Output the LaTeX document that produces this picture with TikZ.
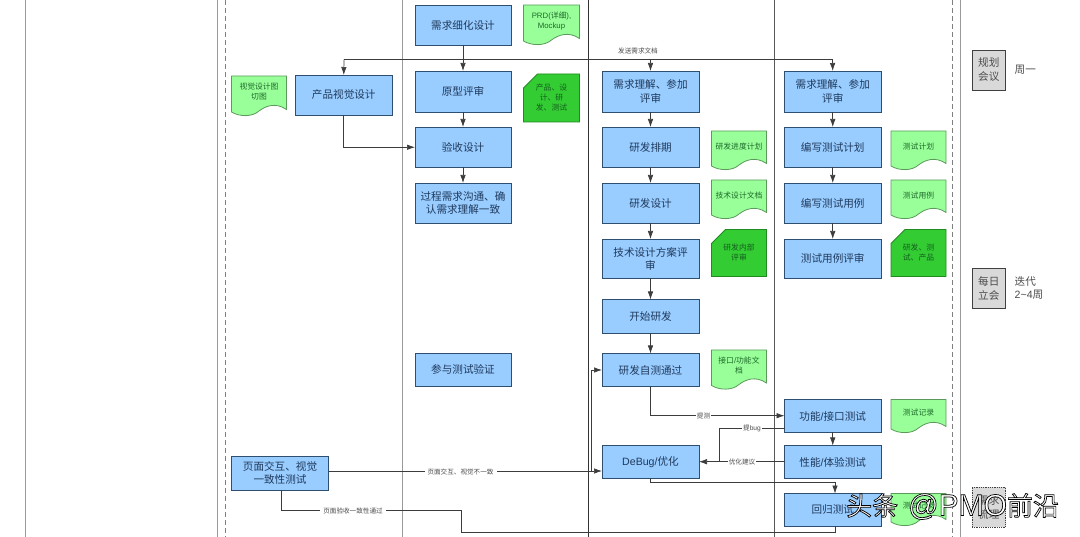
\documentclass[tikz,border=0pt]{standalone}
\usepackage{fontspec}
\setmainfont{Noto Sans CJK SC}
\newfontfamily\latinfont{Liberation Sans}
\usetikzlibrary{arrows.meta,calc}
\definecolor{boxfill}{HTML}{99CCFF}
\definecolor{boxline}{HTML}{2F4F70}
\definecolor{boxtext}{HTML}{1F3A5C}
\definecolor{docfill}{HTML}{99FF99}
\definecolor{docline}{HTML}{5C9A5C}
\definecolor{darkfill}{HTML}{33CC33}
\definecolor{darkline}{HTML}{1F8A1F}
\definecolor{doctext}{HTML}{1E6A2A}
\definecolor{darktext}{HTML}{14601E}
\definecolor{greyfill}{HTML}{D9D9D9}
\definecolor{laneline}{HTML}{9A9A9A}
\definecolor{wireline}{HTML}{3C3C3C}
\tikzset{
  x=1pt,y=-1pt,
  boxbase/.style={anchor=north west,inner sep=0pt,align=center,outer sep=0pt},
  proc/.style={boxbase,draw=boxline,line width=.8pt,fill=boxfill,text=boxtext,font=\fontsize{10.6}{13.2}\selectfont},
  doctxt/.style={boxbase,text=doctext,font=\fontsize{7.8}{10}\selectfont},
  meet/.style={boxbase,draw=black!75,line width=.8pt,fill=greyfill,text=black!70,font=\fontsize{10.6}{14}\selectfont},
  meetdot/.style={meet,densely dotted},
  wire/.style={draw=wireline,line width=.7pt},
  flow/.style={wire,-{Latex[length=8pt,width=5.5pt]}},
  lbl/.style={fill=white,inner sep=1pt,text=black!70,font=\fontsize{6.6}{8}\selectfont},
  lane/.style={draw=laneline,line width=1pt},
  blackline/.style={draw=black!80,line width=.7pt},
  dashline/.style={draw=black!50,line width=.6pt,dash pattern=on 5pt off 3pt},
  side/.style={anchor=west,inner sep=0pt,align=left,text=black!70,font=\fontsize{10.6}{13.2}\selectfont},
}
% name, x1, y1, x2, y2, text
\newcommand{\procbox}[6]{\node[proc,minimum width=#4-#2,minimum height=#5-#3,text width=#4-#2-8] (#1) at (#2,#3) {#6};}
\newcommand{\meetbox}[7][meet]{\node[#1,minimum width=#5-#3,minimum height=#6-#4] (#2) at (#3,#4) {#7};}
\newcommand{\docbox}[6]{%
  \draw[draw=docline,line width=.8pt,fill=docfill]
    (#2,#3) -- (#4,#3) -- (#4,#5-6.5)
    .. controls ({#2+.8*(#4-#2)},#5-14) and ({#2+.62*(#4-#2)},#5-10) .. ({#2+.5*(#4-#2)},#5-5)
    .. controls ({#2+.38*(#4-#2)},#5+1) and ({#2+.15*(#4-#2)},#5+1) .. (#2,#5-4) -- cycle;
  \node[doctxt,minimum width=#4-#2,minimum height=#5-#3-8,text width=#4-#2-2] (#1) at (#2,#3) {#6};}
\newcommand{\darkbox}[6]{%
  \draw[draw=darkline,line width=.8pt,fill=darkfill]
    (#2+14,#3) -- (#4,#3) -- (#4,#5) -- (#2,#5) -- (#2,#3+14) -- cycle;
  \node[doctxt,text=darktext,minimum width=#4-#2,minimum height=#5-#3,text width=#4-#2-10] (#1) at (#2,#3) {#6};}
\newcommand{\outlined}[1]{\special{pdf:code q 2 Tr 0.7 w 0 0 0 RG 1 1 1 rg}#1\special{pdf:code Q}}
\begin{document}
\begin{tikzpicture}
\useasboundingbox (0,0) rectangle (1080,537);
\fill[white] (0,0) rectangle (1080,537);
% lanes
\coordinate (l1t) at (25,0); \coordinate (l1b) at (25,537);
\coordinate (l2t) at (217,0); \coordinate (l2b) at (217,537);
\coordinate (d1t) at (225,0); \coordinate (d1b) at (225,537);
\coordinate (l3t) at (402.5,0); \coordinate (l3b) at (402.5,537);
\coordinate (l4t) at (588,0); \coordinate (l4b) at (588,537);
\coordinate (l5t) at (774.5,0); \coordinate (l5b) at (774.5,537);
\coordinate (d2t) at (952,0); \coordinate (d2b) at (952,537);
\coordinate (l6t) at (960,0); \coordinate (l6b) at (960,537);
\draw[lane] (l1t)--(l1b); \draw[lane] (l2t)--(l2b); \draw[lane] (l3t)--(l3b);
\draw[blackline] (l4t)--(l4b); \draw[draw=black!65,line width=.7pt] (l5t)--(l5b);
\draw[lane] (l6t)--(l6b);
\draw[dashline] (d1t)--(d1b); \draw[dashline] (d2t)--(d2b);
% product column
\procbox{pa}{415}{5}{511}{45}{需求细化设计}
\procbox{pb}{415}{71}{511}{112}{原型评审}
\procbox{pc}{415}{127}{511}{167.5}{验收设计}
\procbox{pd}{415}{183}{511}{223}{过程需求沟通、确\\认需求理解一致}
\procbox{pe}{415}{353}{511}{386.5}{参与测试验证}
\docbox{dprd}{523.5}{5}{579.5}{45}{{\latinfont PRD(}详细{\latinfont ),}\\{\latinfont Mockup}}
\darkbox{drev}{523.5}{74}{579.5}{122}{产品、设\\计、研\\发、测试}
% design column
\procbox{va}{295.5}{75}{392}{115}{产品视觉设计}
\docbox{dva}{231.5}{76}{286.5}{116}{视觉设计图\\切图}
\procbox{vb}{231.5}{456}{328.5}{490}{页面交互、视觉\\一致性测试}
% dev column
\procbox{da}{602}{71}{699}{112}{需求理解、参加\\评审}
\procbox{db}{602}{127}{699}{167}{研发排期}
\procbox{dc}{602}{183}{699}{223}{研发设计}
\procbox{dd}{602}{239}{699}{278.5}{技术设计方案评\\审}
\procbox{de}{602}{299.5}{699}{333.5}{开始研发}
\procbox{df}{602}{353.5}{699}{386.5}{研发自测通过}
\procbox{dg}{602}{445.5}{699}{478.5}{{\latinfont DeBug/}优化}
\docbox{ddb}{711.5}{131}{766.5}{170}{研发进度计划}
\docbox{ddc}{711.5}{180}{766.5}{219}{技术设计文档}
\darkbox{ddd}{711.5}{229.5}{766.5}{276.5}{研发内部\\评审}
\docbox{ddf}{711.5}{350}{766.5}{389.5}{接口{\latinfont /}功能文\\档}
% test column
\procbox{ta}{784.5}{71}{881}{112}{需求理解、参加\\评审}
\procbox{tb}{784.5}{127}{881}{167}{编写测试计划}
\procbox{tc}{784.5}{183}{881}{223}{编写测试用例}
\procbox{td}{784.5}{239}{881}{278.5}{测试用例评审}
\procbox{te}{784.5}{399.5}{881}{432.5}{功能{\latinfont /}接口测试}
\procbox{tf}{784.5}{445.5}{881}{478.5}{性能{\latinfont /}体验测试}
\procbox{tg}{784.5}{493.5}{881}{526}{回归测试}
\docbox{dtb}{891}{131}{946}{170}{测试计划}
\docbox{dtc}{891}{180}{946}{219}{测试用例}
\darkbox{dtd}{891}{229.5}{946}{276.5}{研发、测\\试、产品}
\docbox{dte}{891}{399.5}{946}{433}{测试记录}
\docbox{dtg}{891}{493.5}{946}{526}{测试记录}
% meetings
\meetbox{ma}{972}{50}{1005.5}{90}{规划\\会议}
\meetbox{mb}{972}{268.5}{1005.5}{308}{每日\\立会}
\meetbox[meetdot]{mc}{972}{487}{1005.5}{527}{需求\\梳理}
\node[side] (sa) at (1014.5,70) {周一};
\node[side] (sb) at (1014.5,288) {迭代\\{\latinfont 2\textasciitilde 4}周};
% connectors
\draw[flow] (pa) -- (pb);
\draw[flow] (pb) -- (pc);
\draw[flow] (pc) -- (pd);
\coordinate (busa) at (344,59.7);
\coordinate (busb) at (832.5,59.7);
\draw[wire] (busa) -- (busb);
\draw[flow] (busa) -- (va.north);
\draw[flow] (da.north |- busa) -- (da.north);
\draw[flow] (busb) -- (ta.north);
\node[lbl,fill=none] (busl) at (638,50.5) {发送需求文档};
\draw[flow] (va.south) |- (pc.west);
\draw[flow] (da) -- (db);
\draw[flow] (db) -- (dc);
\draw[flow] (dc) -- (dd);
\draw[flow] (dd) -- (de);
\draw[flow] (de) -- (df);
\draw[flow] (ta) -- (tb);
\draw[flow] (tb) -- (tc);
\draw[flow] (tc) -- (td);
\draw[flow] (te) -- (tf);
% test handoff
\coordinate (h1) at (650.5,415.7);
\draw[flow] (df.south) -- (h1) -- (te.west |- h1);
\node[lbl] (h1l) at (703.5,416) {提测};
\coordinate (b1) at (774.5,428);
\coordinate (b2) at (719,428);
\coordinate (b3) at (719,461.7);
\draw[wire] (te.west |- b1) -- (b2) -- (b3);
\node[lbl] (b1l) at (752,428.5) {提{\latinfont bug}};
\coordinate (o1) at (784.5,461.7);
\draw[flow] (o1) -- (dg.east |- o1);
\node[lbl] (o1l) at (742,461.7) {优化建议};
\coordinate (r1) at (650.5,482.5);
\coordinate (r2) at (835,482.5);
\draw[flow] (dg.south) -- (r1) -- (r2) -- (r2 |- tg.north);
% page check
\coordinate (v1) at (602,471);
\draw[flow] (vb.east |- v1) -- (v1);
\node[lbl,inner sep=3pt] (v1l) at (460.5,472) {页面交互、视觉不一致};
\coordinate (v2) at (591.5,471);
\coordinate (v3) at (591.5,370);
\draw[flow] (v2) -- (v3) -- (df.west |- v3);
\coordinate (c1) at (281,510);
\coordinate (c2) at (461.5,510);
\coordinate (c3) at (461.5,532);
\coordinate (c4) at (835,532);
\draw[wire] (vb.south -| c1) -- (c1) -- (c2) -- (c3) -- (c4) -- (tg.south -| c4);
\node[lbl,inner sep=3pt] (c1l) at (353,511) {页面验收一致性通过};
% watermark
\node[anchor=west,inner sep=0pt,font=\fontsize{26}{28}\selectfont] (wm) at (846,506.5)
  {\outlined{头条\hspace{10pt}{\latinfont\fontsize{30}{28}\selectfont @PMO}前沿}};
\end{tikzpicture}
\end{document}
